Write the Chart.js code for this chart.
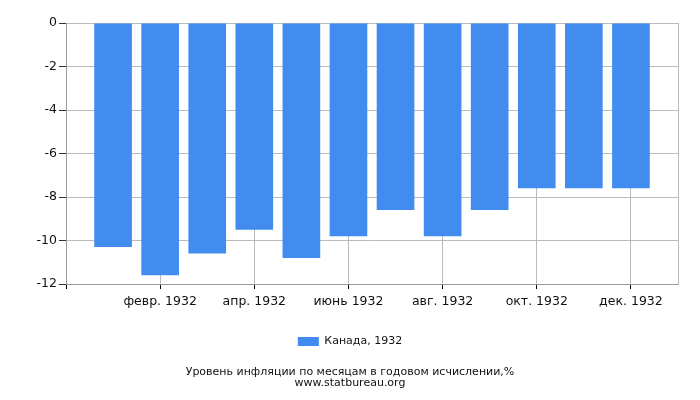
<!DOCTYPE html>
<html>
<head>
<meta charset="utf-8">
<script src="https://cdn.jsdelivr.net/npm/chart.js@4"></script>
<style>
  html, body { margin: 0; padding: 0; background: #fff; }
  #wrap { width: 700px; height: 400px; }
</style>
</head>
<body>
<div id="wrap"><canvas id="chart"></canvas></div>
<script>
// months of 1932 (empty slots at both ends give the half-step margins)
const months = ["янв. 1932", "февр. 1932", "март 1932", "апр. 1932", "май 1932", "июнь 1932",
  "июль 1932", "авг. 1932", "сент. 1932", "окт. 1932", "нояб. 1932", "дек. 1932"];
const canada1932 = [-10.3, -11.6, -10.6, -9.5, -10.8, -9.8, -8.6, -9.8, -8.6, -7.6, -7.6, -7.6];
const seriesName = "Канада, 1932";
const yTicks = { min: -12, max: 0, step: 2 };
const titleLines = ["Уровень инфляции по месяцам в годовом исчислении,%", "www.statbureau.org"];

const labels = ["", ...months, ""];
const values = [null, ...canada1932, null];

const font = "'DejaVu Sans', sans-serif";
Chart.defaults.font.family = font;
Chart.defaults.color = "#111";

new Chart(document.getElementById("chart"), {
  type: "bar",
  data: {
    labels,
    datasets: [{
      label: seriesName,
      data: values,
      backgroundColor: "#428bef",
      borderWidth: 0,
      categoryPercentage: 1,
      barPercentage: 0.8
    }]
  },
  options: {
    responsive: true,
    maintainAspectRatio: false,
    animation: false,
    layout: { padding: { left: 0, right: 0, top: 23, bottom: 11 } },
    scales: {
      x: {
        type: "category",
        offset: false,
        grid: { offset: false, color: "#bbb", tickColor: "#000", tickLength: 5 },
        border: { color: "#999" },
        ticks: {
          autoSkip: false,
          maxRotation: 0,
          padding: 5,
          font: { size: 12.5 },
          callback: function (val, index) {
            return index % 2 === 0 ? this.getLabelForValue(val) : null;
          }
        }
      },
      y: {
        min: yTicks.min,
        max: yTicks.max,
        afterFit: (scale) => { scale.width = 66; },
        grid: { color: "#bbb", tickColor: "#333", tickLength: 7 },
        border: { color: "#999" },
        ticks: { stepSize: yTicks.step, padding: 2, font: { size: 12.5 } }
      },
      yRight: {
        position: "right",
        min: yTicks.min,
        max: yTicks.max,
        afterFit: (scale) => { scale.width = 22; },
        grid: { display: false },
        border: { color: "#bbb" },
        ticks: { display: false }
      }
    },
    plugins: {
      legend: {
        position: "bottom",
        labels: { boxWidth: 21, boxHeight: 9, padding: 22, font: { size: 11 } }
      },
      title: {
        display: true,
        position: "bottom",
        text: titleLines,
        font: { size: 11, weight: "normal", lineHeight: 1.0 },
        padding: { top: 10, bottom: 0 }
      },
      tooltip: { enabled: false }
    }
  }
});
</script>
</body>
</html>
